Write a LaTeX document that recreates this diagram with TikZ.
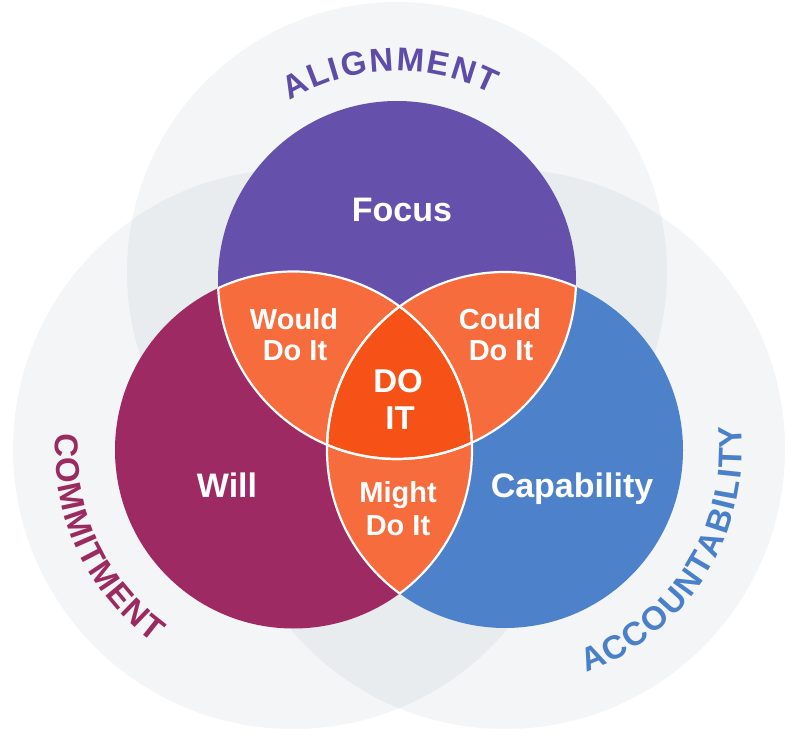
\documentclass[tikz,border=0pt]{standalone}
\usepackage{fontspec}
\setmainfont{Liberation Sans}
\usetikzlibrary{decorations.text}
\definecolor{focuscol}{HTML}{6550AB}
\definecolor{willcol}{HTML}{9E2A63}
\definecolor{capcol}{HTML}{4D82CB}
\definecolor{pairor}{HTML}{F76C3D}
\definecolor{triplor}{HTML}{F65218}
\definecolor{outerA}{HTML}{F4F5F7}
\definecolor{outerB}{HTML}{E8ECEE}
\definecolor{aligntxt}{HTML}{5F4BA8}
\definecolor{committxt}{HTML}{9B2A60}
\definecolor{accttxt}{HTML}{4A7FCA}
\begin{document}
\begin{tikzpicture}[x=1pt,y=1pt,
  bigl/.style={text=white, font=\bfseries\fontsize{34}{34}\selectfont, inner sep=0pt, anchor=base},
  midl/.style={bigl, font=\bfseries\fontsize{33}{33}\selectfont},
  smalll/.style={bigl, font=\bfseries\fontsize{29}{29}\selectfont},
  sep/.style={white, line width=2.2pt},
  arctext/.style={decorate, decoration={text along path, text color=#1,
     text align={fit to path}}}
  ]
\useasboundingbox (0,0) rectangle (800,742);
\coordinate (F) at (397,462);
\coordinate (W) at (293.5,292);
\coordinate (C) at (505,292);
\coordinate (FO) at (397,470);
\coordinate (WO) at (293,293);
\coordinate (CO) at (505,293);
% outer light circles
\fill[outerA] (FO) circle[radius=270];
\fill[outerA] (WO) circle[radius=280];
\fill[outerA] (CO) circle[radius=280];
\begin{scope}
  \clip (FO) circle[radius=270];
  \fill[outerB] (WO) circle[radius=280];
  \fill[outerB] (CO) circle[radius=280];
\end{scope}
\begin{scope}
  \clip (WO) circle[radius=280];
  \fill[outerB] (CO) circle[radius=280];
\end{scope}
% inner circles
\fill[focuscol] (F) circle[radius=179];
\fill[willcol] (W) circle[radius=178.5];
\fill[capcol] (C) circle[radius=178];
\begin{scope}
  \clip (F) circle[radius=179];
  \fill[pairor] (W) circle[radius=178.5];
  \fill[pairor] (C) circle[radius=178];
\end{scope}
\begin{scope}
  \clip (W) circle[radius=178.5];
  \fill[pairor] (C) circle[radius=178];
\end{scope}
\begin{scope}
  \clip (F) circle[radius=179];
  \clip (W) circle[radius=178.5];
  \fill[triplor] (C) circle[radius=178];
\end{scope}
% white separators
\begin{scope}
  \clip (F) circle[radius=179];
  \draw[sep] (W) circle[radius=178.5];
  \draw[sep] (C) circle[radius=178];
\end{scope}
\begin{scope}
  \clip (W) circle[radius=178.5];
  \draw[sep] (F) circle[radius=179];
  \draw[sep] (C) circle[radius=178];
\end{scope}
\begin{scope}
  \clip (C) circle[radius=178];
  \draw[sep] (F) circle[radius=179];
  \draw[sep] (W) circle[radius=178.5];
\end{scope}
% labels
\node[bigl] (focus) at (402,520) {Focus};
\node[bigl] (will) at (227,244) {Will};
\node[bigl] (capab) at (572,244) {Capability};
\node[smalll] (would1) at (294,412) {Would};
\node[smalll] (would2) at (295,381) {Do It};
\node[smalll] (could1) at (500,412) {Could};
\node[smalll] (could2) at (501,381) {Do It};
\node[smalll] (might1) at (398,239) {Might};
\node[smalll] (might2) at (398,207) {Do It};
\node[midl] (doit1) at (398,349) {DO};
\node[midl] (doit2) at (400,312) {IT};
% curved labels
\path[arctext=aligntxt, decoration={text={|\bfseries\fontsize{33}{33}\selectfont|ALIGNMENT}}]
  ([shift={(121:209)}]F) arc[start angle=121, end angle=63, radius=209];
\path[arctext=committxt, decoration={text={|\bfseries\fontsize{33}{33}\selectfont|COMMITMENT}}]
  ([shift={(176:238)}]W) arc[start angle=176, end angle=234, radius=238];
\path[arctext=accttxt, decoration={text={|\bfseries\fontsize{33}{33}\selectfont|ACCOUNTABILITY}}]
  ([shift={(-70:237)}]C) arc[start angle=-70, end angle=6, radius=237];
\end{tikzpicture}
\end{document}
